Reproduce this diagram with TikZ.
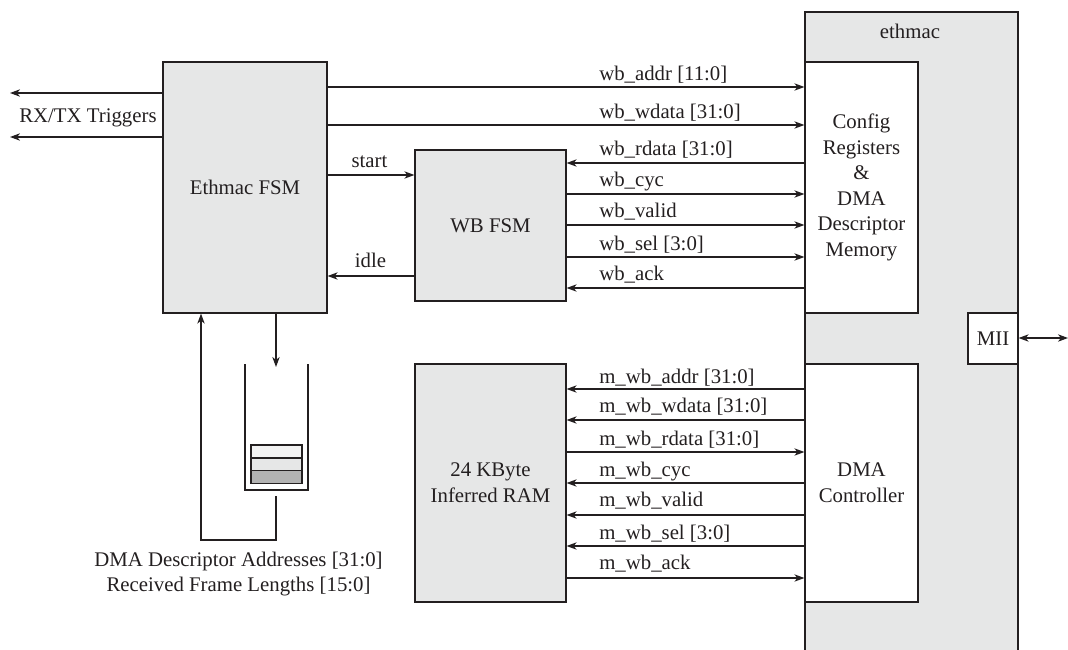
\documentclass[tikz,border=0pt]{standalone}
\usepackage{fontspec}
\setmainfont{Liberation Serif}
\usetikzlibrary{arrows.meta}
\definecolor{boxgray}{HTML}{E6E7E7}
\definecolor{inkc}{HTML}{231F20}
\tikzset{
 box/.style={draw=inkc,line width=0.9pt,inner sep=0pt,align=center,text=inkc,font=\fontsize{15.6}{19.2}\selectfont},
 gbox/.style={box,fill=boxgray},
 wbox/.style={box,fill=white},
 lab/.style={anchor=base west,inner sep=0pt,text=inkc,font=\fontsize{15.6}{19.2}\selectfont},
 labc/.style={lab,anchor=base,align=center},
 arr/.style={draw=inkc,line width=0.9pt,-{Stealth[length=7.5pt,width=5.5pt,inset=2.2pt]}},
 arrs/.style={draw=inkc,line width=0.9pt,{Stealth[length=7.5pt,width=5.5pt,inset=2.2pt]}-{Stealth[length=7.5pt,width=5.5pt,inset=2.2pt]}},
 wire/.style={draw=inkc,line width=0.9pt},
}
\begin{document}
\begin{tikzpicture}[x=0.75pt,y=-0.75pt]
\useasboundingbox (0,0) rectangle (1068,650);
\clip (0,0) rectangle (1068,650);
\node[gbox,minimum width=159.75pt,minimum height=486pt] (eth) at (911.5,336) {};
\node[labc] (ethl) at (910,38) {ethmac};
\node[wbox,minimum width=84.75pt,minimum height=188.25pt] (cfg) at (861.5,187.5) {Config\\Registers\\\&\\DMA\\Descriptor\\Memory};
\node[wbox,minimum width=84.75pt,minimum height=178.5pt] (dma) at (861.5,483) {DMA\\Controller};
\node[wbox,minimum width=37.5pt,minimum height=38.25pt] (mii) at (993,338.5) {MII};
\node[gbox,minimum width=123pt,minimum height=188.25pt] (fsm) at (245,187.5) {Ethmac FSM};
\node[gbox,minimum width=113.25pt,minimum height=113.25pt] (wb) at (490.5,225.5) {WB FSM};
\node[gbox,minimum width=113.25pt,minimum height=178.5pt] (ram) at (490.5,483) {24 KByte\\Inferred RAM};
% FIFO
\coordinate (ftl) at (245,364);
\coordinate (fbl) at (245,490);
\coordinate (fbr) at (308,490);
\coordinate (ftr) at (308,364);
\draw[wire] (ftl) -- (fbl) -- (fbr) -- (ftr);
\node[box,fill=white!95!black,minimum width=38.25pt,minimum height=9.75pt] (b1) at (276.5,451.5) {};
\node[box,fill=boxgray,minimum width=38.25pt,minimum height=9.75pt] (b2) at (276.5,464.5) {};
\node[box,fill=black!30,minimum width=38.25pt,minimum height=9.75pt] (b3) at (276.5,477) {};
\coordinate (fin) at (276,367);
\draw[arr] (fsm.south -| fin) -- (fin);
\coordinate (fout) at (276,496);
\coordinate (c1) at (276,540);
\coordinate (c2) at (201,540);
\draw[arr] (fout) -- (c1) -- (c2) -- (c2 |- fsm.south);
\node[labc] (dl) at (238.5,566) {DMA Descriptor Addresses [31:0]};
\node[labc] (dl2) at (238.5,591) {Received Frame Lengths [15:0]};
% triggers
\coordinate (t1) at (10,93);
\coordinate (t2) at (10,137);
\draw[arr] (fsm.west |- t1) -- (t1);
\draw[arr] (fsm.west |- t2) -- (t2);
\node[lab] (tl) at (19,122) {RX/TX Triggers};
% MII
\coordinate (me) at (1068,338);
\draw[arrs] (mii.east |- me) -- (me);
% fsm - cfg
\draw[arr] (fsm.east |- 0,87) -- (cfg.west |- 0,87);
\draw[arr] (fsm.east |- 0,125) -- (cfg.west |- 0,125);
\node[lab] (l1) at (599,80) {wb\_addr [11:0]};
\node[lab] (l2) at (599,118) {wb\_wdata [31:0]};
% start, idle
\draw[arr] (fsm.east |- 0,175) -- (wb.west |- 0,175);
\draw[arr] (wb.west |- 0,276) -- (fsm.east |- 0,276);
\node[labc] (st) at (369.5,167) {start};
\node[labc] (id) at (370.5,267) {idle};
% wb
\draw[arr] (cfg.west |- 0,163) -- (wb.east |- 0,163);
\draw[arr] (wb.east |- 0,194) -- (cfg.west |- 0,194);
\draw[arr] (wb.east |- 0,225) -- (cfg.west |- 0,225);
\draw[arr] (wb.east |- 0,257) -- (cfg.west |- 0,257);
\draw[arr] (cfg.west |- 0,288) -- (wb.east |- 0,288);
\node[lab] (l3) at (599,155) {wb\_rdata [31:0]};
\node[lab] (l4) at (599,186) {wb\_cyc};
\node[lab] (l5) at (599,217) {wb\_valid};
\node[lab] (l6) at (599,250) {wb\_sel [3:0]};
\node[lab] (l7) at (599,280) {wb\_ack};
% m
\draw[arr] (dma.west |- 0,389) -- (ram.east |- 0,389);
\draw[arr] (dma.west |- 0,420) -- (ram.east |- 0,420);
\draw[arr] (ram.east |- 0,452) -- (dma.west |- 0,452);
\draw[arr] (dma.west |- 0,483) -- (ram.east |- 0,483);
\draw[arr] (dma.west |- 0,515) -- (ram.east |- 0,515);
\draw[arr] (dma.west |- 0,546) -- (ram.east |- 0,546);
\draw[arr] (ram.east |- 0,578) -- (dma.west |- 0,578);
\node[lab] (m1) at (599,383) {m\_wb\_addr [31:0]};
\node[lab] (m2) at (599,412) {m\_wb\_wdata [31:0]};
\node[lab] (m3) at (599,445) {m\_wb\_rdata [31:0]};
\node[lab] (m4) at (599,476) {m\_wb\_cyc};
\node[lab] (m5) at (599,506) {m\_wb\_valid};
\node[lab] (m6) at (599,539) {m\_wb\_sel [3:0]};
\node[lab] (m7) at (599,569) {m\_wb\_ack};
\end{tikzpicture}
\end{document}
